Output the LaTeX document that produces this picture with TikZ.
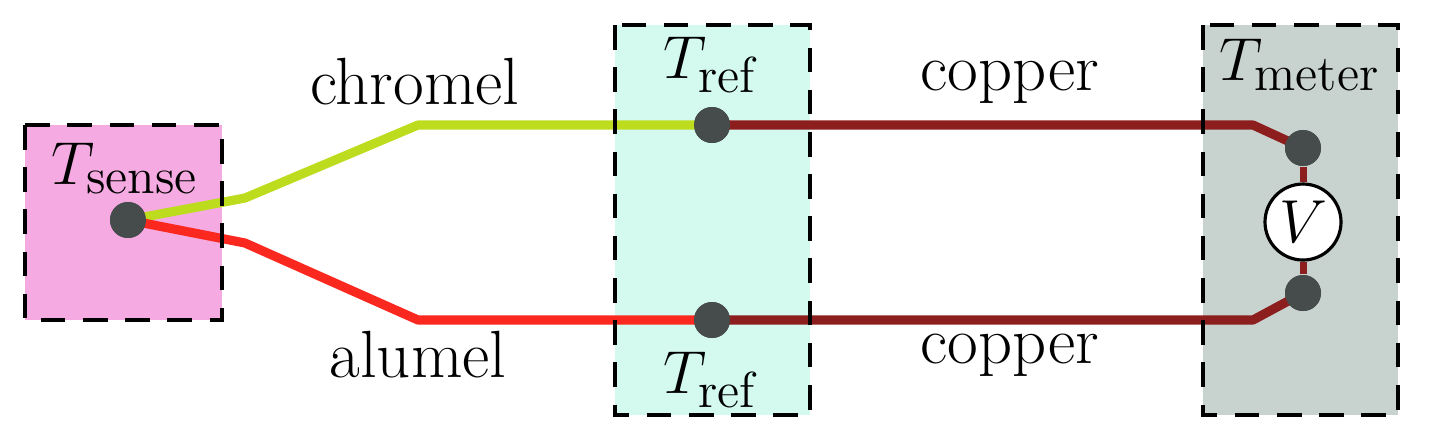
\documentclass[tikz,border=0pt]{standalone}
\usetikzlibrary{positioning}
\definecolor{pinkbox}{RGB}{246,170,226}
\definecolor{cyanbox}{RGB}{212,250,240}
\definecolor{graybox}{RGB}{200,210,206}
\definecolor{chromelc}{RGB}{190,220,30}
\definecolor{alumelc}{RGB}{250,40,30}
\definecolor{copperc}{RGB}{140,30,30}
\definecolor{dotc}{RGB}{70,75,75}
\tikzset{
  zone/.style={draw, dashed, line width=1.2pt, dash pattern=on 7pt off 5pt},
  wire/.style={line width=2.6pt, line join=round},
  junction/.style={circle, fill=dotc, minimum size=0.36cm, inner sep=0pt},
  lbl/.style={font=\fontsize{19}{21}\selectfont}
}
\begin{document}
\begin{tikzpicture}[y=-1cm]
  \useasboundingbox (0,0) rectangle (14.29,4.46);
  \fill[pinkbox] (0.25,1.25) rectangle (2.22,3.2);
  \fill[cyanbox] (6.15,0.25) rectangle (8.1,4.15);
  \fill[graybox] (12.03,0.25) rectangle (13.98,4.15);

  \node[junction] (sense) at (1.28,2.2) {};
  \node[junction] (reft) at (7.12,1.25) {};
  \node[junction] (refb) at (7.12,3.2) {};
  \node[junction] (mt) at (13.03,1.48) {};
  \node[junction] (mb) at (13.03,2.93) {};
  \node[circle, draw, fill=white, line width=0.9pt, minimum size=0.76cm, inner sep=0pt, lbl] (volt) at (13.03,2.22) {$V$};

  \coordinate (c1) at (2.45,1.98);
  \coordinate (c2) at (4.18,1.25);
  \coordinate (a1) at (2.45,2.43);
  \coordinate (a2) at (4.18,3.2);
  \coordinate (pt) at (12.53,1.25);
  \coordinate (pb) at (12.53,3.2);

  \draw[wire, chromelc] (sense.center) -- (c1) -- (c2) -- (reft.center);
  \draw[wire, alumelc] (sense.center) -- (a1) -- (a2) -- (refb.center);
  \draw[wire, copperc] (reft.center) -- (pt) -- (mt.center);
  \draw[wire, copperc] (refb.center) -- (pb) -- (mb.center);
  \draw[wire, copperc, line width=2pt] (mt) -- (volt) -- (mb);
  \node[junction] at (sense) {};
  \node[junction] at (reft) {};
  \node[junction] at (refb) {};
  \node[junction] at (mt) {};
  \node[junction] at (mb) {};

  \draw[zone] (0.25,1.25) rectangle (2.22,3.2);
  \draw[zone] (6.15,0.25) rectangle (8.1,4.15);
  \draw[zone] (12.03,0.25) rectangle (13.98,4.15);

  \node[lbl] (chromel) at (4.15,0.82) {chromel};
  \node[lbl] (alumel) at (4.18,3.55) {alumel};
  \node[lbl] (coppert) at (10.1,0.82) {copper};
  \node[lbl] (copperb) at (10.1,3.55) {copper};
  \node[lbl] (tsense) at (1.25,1.68) {$T_{\mathrm{sense}}$};
  \node[lbl] (treft) at (7.12,0.65) {$T_{\mathrm{ref}}$};
  \node[lbl] (trefb) at (7.12,3.8) {$T_{\mathrm{ref}}$};
  \node[lbl] (tmeter) at (13.0,0.65) {$T_{\mathrm{meter}}$};
\end{tikzpicture}
\end{document}
